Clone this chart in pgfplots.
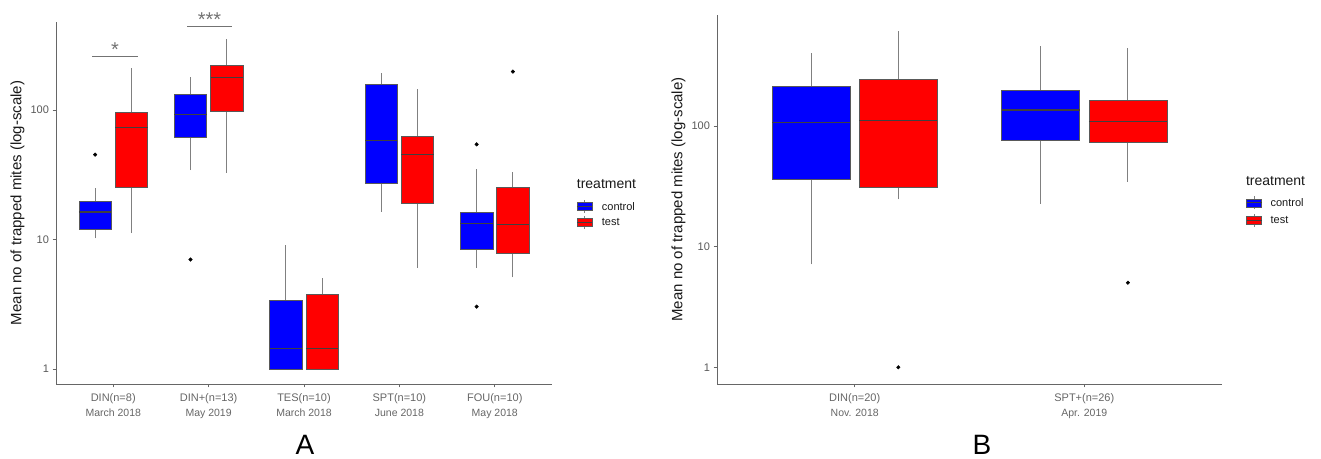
\documentclass[border=0pt]{standalone}
\usepackage{fontspec}
\setmainfont{Liberation Sans}
\usepackage{pgfplots}
\pgfplotsset{compat=1.18}

% one box: centre, colour, lower whisker, lower quartile, median, upper quartile, upper whisker
\newcommand\bx[7]{%
  \pgfmathsetmacro\xl{#1-0.17}\pgfmathsetmacro\xr{#1+0.17}%
  \edef\doit{%
    \noexpand\addplot[black!50, line width=0.9pt, forget plot] coordinates {(#1,#3) (#1,#4)};
    \noexpand\addplot[black!50, line width=0.9pt, forget plot] coordinates {(#1,#6) (#1,#7)};
    \noexpand\addplot[fill=#2, draw=black!65, line width=0.5pt, forget plot] coordinates {(\xl,#4) (\xr,#4) (\xr,#6) (\xl,#6)} -- cycle;
    \noexpand\addplot[black!75, line width=1.2pt, forget plot] coordinates {(\xl,#5) (\xr,#5)};
  }\doit}
\newcommand\outl[1]{\addplot[only marks, mark=*, mark size=1.8pt, black, forget plot] coordinates {#1};}
% legend key, drawn in axis description coordinates (legend, not data)
\newcommand\key[3]{% x, y (axis description cs), colour
  \draw[black!50, line width=0.8pt] ([yshift=-6.5pt]axis description cs:#1,#2) -- ([yshift=6.5pt]axis description cs:#1,#2);
  \draw[fill=#3, draw=black!65, line width=0.4pt] ([xshift=-7.5pt,yshift=-4pt]axis description cs:#1,#2) rectangle ([xshift=7.5pt,yshift=4pt]axis description cs:#1,#2);
  \draw[black!75, line width=0.9pt] ([xshift=-7.5pt]axis description cs:#1,#2) -- ([xshift=7.5pt]axis description cs:#1,#2);
}

\begin{document}
\begin{tikzpicture}
\useasboundingbox (0,0) rectangle (1321pt,458pt);

% ---- panel A ----
\begin{axis}[
  ymode=log,
  scale only axis, clip=false,
  at={(56pt,74pt)}, anchor=south west,
  width=496pt, height=362pt,
  xmin=0.4, xmax=5.6, ymin=0.766, ymax=478,
  axis x line*=bottom, axis y line*=left,
  axis line style={black!60, line width=0.7pt},
  tick style={black!60, line width=0.7pt},
  tick align=outside, major tick length=3.5pt,
  yminorticks=false,
  ytick={1,10,100}, yticklabels={1,10,100},
  yticklabel style={font=\fontsize{11}{12}\selectfont, text=black!65},
  xticklabel style={align=center, font=\fontsize{11}{15}\selectfont, text=black!60, yshift=-3pt},
  ylabel={Mean no of trapped mites (log-scale)},
  ylabel style={at={(axis description cs:-0.0776,0.5)}, anchor=center,
      font=\fontsize{15}{17}\selectfont, text=black!90},
  xtick={1,2,3,4,5},
  xticklabels={{DIN(n=8)\\\fontsize{10.5}{12}\selectfont March 2018},
               {DIN+(n=13)\\\fontsize{10.5}{12}\selectfont May 2019},
               {TES(n=10)\\\fontsize{10.5}{12}\selectfont March 2018},
               {SPT(n=10)\\\fontsize{10.5}{12}\selectfont June 2018},
               {FOU(n=10)\\\fontsize{10.5}{12}\selectfont May 2018}},
]
% DIN
\bx{0.81}{blue}{10.2}{12}{16.3}{19.7}{25}
\bx{1.19}{red}{11.2}{25.1}{73.5}{96}{212}
% DIN+
\bx{1.81}{blue}{34.4}{61.5}{92}{132}{181}
\bx{2.19}{red}{32.8}{98}{179}{220}{355}
% TES
\bx{2.81}{blue}{1}{1}{1.44}{3.37}{9.07}
\bx{3.19}{red}{1}{1}{1.44}{3.75}{5.04}
% SPT
\bx{3.81}{blue}{16.4}{27}{58}{158}{192}
\bx{4.19}{red}{6.06}{18.9}{45.5}{63}{146}
% FOU
\bx{4.81}{blue}{6.06}{8.45}{13.2}{16.2}{35}
\bx{5.19}{red}{5.1}{7.8}{13}{25.3}{33.2}
% outliers
\outl{(0.81,45.2) (1.81,7.0) (4.81,54.3) (4.81,3.03) (5.19,198)}

% legend
\node[anchor=base west, inner sep=0pt, font=\fontsize{14}{16}\selectfont, text=black!90] at (axis description cs:1.0498,0.5414) {treatment};
\key{1.0655}{0.4898}{blue}
\key{1.0655}{0.4475}{red}
\node[anchor=west, inner sep=0pt, font=\fontsize{11}{13}\selectfont, text=black!90] at (axis description cs:1.1002, 0.4898) {control};
\node[anchor=west, inner sep=0pt, font=\fontsize{11}{13}\selectfont, text=black!90] at (axis description cs:1.1002, 0.4475) {test};

% significance
\draw[black!55, line width=1pt] (axis cs:0.78,261) -- (axis cs:1.26,261);
\node[anchor=base, inner sep=0pt, font=\fontsize{20}{22}\selectfont, text=black!55] at (axis cs:1.02,261) {*};
\draw[black!55, line width=1pt] (axis cs:1.775,440) -- (axis cs:2.246,440);
\node[anchor=base, inner sep=0pt, font=\fontsize{20}{22}\selectfont, text=black!55] at (axis cs:2.01,440) {***};
\end{axis}

% ---- panel B ----
\begin{axis}[
  ymode=log,
  scale only axis, clip=false,
  at={(717pt,74pt)}, anchor=south west,
  width=505pt, height=369pt,
  xmin=0.4, xmax=2.6, ymin=0.727, ymax=835,
  axis x line*=bottom, axis y line*=left,
  axis line style={black!60, line width=0.7pt},
  tick style={black!60, line width=0.7pt},
  tick align=outside, major tick length=3.5pt,
  yminorticks=false,
  ytick={1,10,100}, yticklabels={1,10,100},
  yticklabel style={font=\fontsize{11}{12}\selectfont, text=black!65},
  xticklabel style={align=center, font=\fontsize{11}{15}\selectfont, text=black!60, yshift=-3pt},
  ylabel={Mean no of trapped mites (log-scale)},
  ylabel style={at={(axis description cs:-0.0762,0.5)}, anchor=center,
      font=\fontsize{15}{17}\selectfont, text=black!90},
  xtick={1,2},
  xticklabels={{DIN(n=20)\\\fontsize{10.5}{12}\selectfont Nov. 2018},
               {SPT+(n=26)\\\fontsize{10.5}{12}\selectfont Apr. 2019}},
]
\bx{0.81}{blue}{7.15}{36.6}{107}{214}{406}
\bx{1.19}{red}{24.7}{31.3}{111}{247}{615}
\bx{1.81}{blue}{22.7}{77}{136}{198}{464}
\bx{2.19}{red}{34.6}{73.8}{110}{164}{447}
\outl{(1.19,1.0) (2.19,5.03)}

% legend
\node[anchor=base west, inner sep=0pt, font=\fontsize{14}{16}\selectfont, text=black!90] at (axis description cs:1.0471,0.5390) {treatment};
\key{1.0636}{0.4913}{blue}
\key{1.0636}{0.4444}{red}
\node[anchor=west, inner sep=0pt, font=\fontsize{11}{13}\selectfont, text=black!90] at (axis description cs:1.0958, 0.4913) {control};
\node[anchor=west, inner sep=0pt, font=\fontsize{11}{13}\selectfont, text=black!90] at (axis description cs:1.0958, 0.4444) {test};
\end{axis}

\node[font=\fontsize{28}{30}\selectfont, anchor=base, inner sep=0pt] at (305pt,4pt) {A};
\node[font=\fontsize{28}{30}\selectfont, anchor=base, inner sep=0pt] at (982pt,4pt) {B};
\end{tikzpicture}
\end{document}
